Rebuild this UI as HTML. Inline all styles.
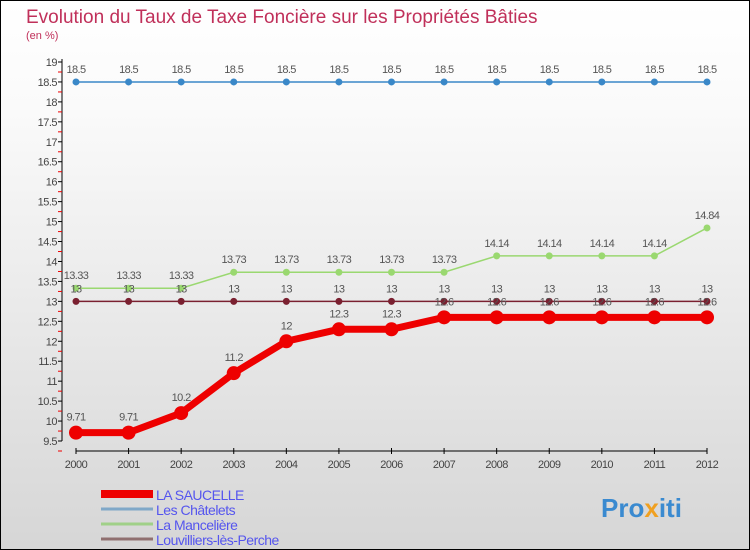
<!DOCTYPE html>
<html><head><meta charset="utf-8"><style>
body{margin:0}
#c{width:750px;height:550px;position:relative;box-sizing:border-box;border:1px solid #000;background:linear-gradient(#fff,#fafafa 20%,#d6d6d6);overflow:hidden;font-family:"Liberation Sans",sans-serif}
</style></head><body>
<div id="c">
<svg id="s" width="750" height="550" style="position:absolute;left:0;top:0">
<text x="25" y="22" font-size="19" fill="#c0305a">Evolution du Taux de Taxe Foncière sur les Propriétés Bâties</text>
<text x="25" y="38" font-size="11" fill="#c0305a">(en %)</text>
<g id="g"></g>
<text x="600" y="516" font-size="26" font-weight="bold" fill="#3a8ad0">Pro<tspan fill="#f0a020">x</tspan>iti</text>
</svg>
</div>
<script>
const years=[2000,2001,2002,2003,2004,2005,2006,2007,2008,2009,2010,2011,2012];
const saucelle=[9.71,9.71,10.2,11.2,12,12.3,12.3,12.6,12.6,12.6,12.6,12.6,12.6];
const chatelets=[18.5,18.5,18.5,18.5,18.5,18.5,18.5,18.5,18.5,18.5,18.5,18.5,18.5];
const manceliere=[13.33,13.33,13.33,13.73,13.73,13.73,13.73,13.73,14.14,14.14,14.14,14.14,14.84];
const louvilliers=[13,13,13,13,13,13,13,13,13,13,13,13,13];
const yTicks=[9.5,10,10.5,11,11.5,12,12.5,13,13.5,14,14.5,15,15.5,16,16.5,17,17.5,18,18.5,19];
const legendNames=["LA SAUCELLE","Les Châtelets","La Mancelière","Louvilliers-lès-Perche"];
const NS="http://www.w3.org/2000/svg",g=document.getElementById('g');
const X=i=>75+i*(706-75)/(years.length-1);
const Y=v=>440-(v-9.5)*(440-61)/9.5;
function el(t,a,p){const e=document.createElementNS(NS,t);for(const k in a)e.setAttribute(k,a[k]);(p||g).appendChild(e);return e;}
let ax=el('line',{x1:61,y1:58,x2:61,y2:440,stroke:'#000'});


let xa=el('line',{x1:75,y1:450,x2:706,y2:450,stroke:'#000'});


yTicks.forEach((v,i)=>{
 el('line',{x1:57,x2:61,y1:Y(v),y2:Y(v),stroke:'#000'});
 el('line',{x1:57,x2:61,y1:Y(v)+10,y2:Y(v)+10,stroke:'#e00'});
 const t=el('text',{x:56,y:Y(v)+4,'font-size':11,'text-anchor':'end',fill:'#444','letter-spacing':'-0.5'});t.textContent=v;
 
 
});
years.forEach((y,i)=>{
 el('line',{x1:X(i),x2:X(i),y1:447,y2:453,stroke:'#000'});
 const t=el('text',{x:X(i),y:467,'font-size':11,'text-anchor':'middle',fill:'#444','letter-spacing':'-0.5'});t.textContent=y;
 
 
});
const series=[[chatelets,'#3a88c8',1.5,3.5,'chatelets'],[manceliere,'#9ad870',1.5,3.5,'manceliere'],[louvilliers,'#7a2030',1.5,3.5,'louvilliers'],[saucelle,'#ee0000',7,7,'saucelle']];
series.forEach(([d,c,w,r,n])=>{
 const l=el('polyline',{points:d.map((v,i)=>X(i)+','+Y(v)).join(' '),fill:'none',stroke:c,'stroke-width':w});
 
 
 d.forEach((v,i)=>{
  const p=el('circle',{cx:X(i),cy:Y(v),r:r,fill:c});
  
  
  const t=el('text',{x:X(i),y:Y(v)-(n=='saucelle'?12:9),'font-size':11,'text-anchor':'middle',fill:'#555','letter-spacing':'-0.6'});t.textContent=v;
  
  
 });
});
const lc=['#ee0000','#80a8c8','#a0d088','#907070'],lw=[8,3,3,3];
legendNames.forEach((nm,i)=>{
 const y=493+i*15;
 const l=el('line',{x1:100,x2:152,y1:y,y2:y,stroke:lc[i],'stroke-width':lw[i]});
 
 
 const t=el('text',{x:155,y:y+6,'font-size':14,fill:'#5555ee','letter-spacing':'-0.5'});t.textContent=nm;
 
 
});
</script>
</body></html>
